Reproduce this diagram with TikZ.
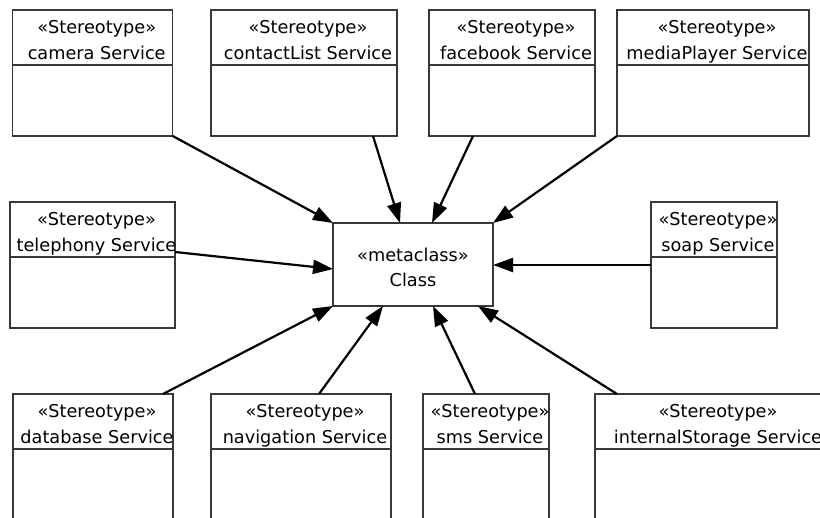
\documentclass[tikz,border=0pt]{standalone}
\usepackage{fontspec}
\setmainfont{DejaVu Sans}
\usetikzlibrary{arrows.meta}

\tikzset{
  frame/.style={draw=black!78, line width=1.3pt, fill=white, inner sep=0pt, outer sep=0pt},
  divline/.style={draw=black!78, line width=1.3pt},
  lbl/.style={anchor=base, inner sep=0pt, outer sep=0pt, font=\fontsize{17.7pt}{20pt}\selectfont},
  arr/.style={draw=black, line width=2.2pt, -{Triangle[length=20pt,width=14pt]}},
}

% service box: name, left x, top y, right x, service label
\newcommand\svcbox[5]{%
  \node[frame, minimum width={#4-#2}, minimum height=126] (#1) at ({(#2+#4)/2},{#3+63}) {};
  \draw[divline] ([yshift=-55pt]#1.north west) -- ([yshift=-55pt]#1.north east);
  \begin{scope}
    \clip (#1.north west) rectangle (#1.south east);
    \node[lbl] (#1-st) at ([xshift=4pt,yshift=-24pt]#1.north) {«Stereotype»};
    \node[lbl] (#1-nm) at ([xshift=4pt,yshift=-50pt]#1.north) {#5};
  \end{scope}
}

\begin{document}
\begin{tikzpicture}[x=1pt, y=-1pt]
  \useasboundingbox (0,0) rectangle (820,518);

  % top row
  \svcbox{camera}{12.7}{10}{172.7}{camera Service}
  \svcbox{contact}{211}{10}{397}{contactList Service}
  \svcbox{facebook}{429}{10}{595}{facebook Service}
  \svcbox{media}{617}{10}{809}{mediaPlayer Service}

  % middle row
  \svcbox{tele}{10}{202}{175}{telephony Service}
  \svcbox{soap}{651}{202}{777}{soap Service}

  % bottom row
  \svcbox{db}{13}{394}{173}{database Service}
  \svcbox{nav}{211}{394}{391}{navigation Service}
  \svcbox{sms}{423}{394}{549}{sms Service}
  \svcbox{store}{595}{394}{833}{internalStorage Service}

  % central metaclass
  \node[frame, minimum width=160, minimum height=83] (cls) at (413,264.5) {};
  \node[lbl] (cls-st) at ([yshift=-38.7pt]cls.north) {«metaclass»};
  \node[lbl] (cls-nm) at ([yshift=-63.7pt]cls.north) {Class};

  % extension arrows
  \draw[arr] (camera.south east) -- (cls.north west);
  \draw[arr] ([xshift=162pt]contact.south west) -- ([xshift=67pt]cls.north west);
  \draw[arr] ([xshift=44pt]facebook.south west) -- ([xshift=99pt]cls.north west);
  \draw[arr] (media.south west) -- (cls.north east);
  \draw[arr] ([yshift=-50pt]tele.north east) -- ([yshift=-46pt]cls.north west);
  \draw[arr] ([yshift=-63pt]soap.north west) -- ([yshift=-42pt]cls.north east);
  \draw[arr] ([xshift=150pt]db.north west) -- (cls.south west);
  \draw[arr] ([xshift=108pt]nav.north west) -- ([xshift=50pt]cls.south west);
  \draw[arr] ([xshift=52pt]sms.north west) -- ([xshift=100pt]cls.south west);
  \draw[arr] ([xshift=22pt]store.north west) -- ([xshift=145pt]cls.south west);
\end{tikzpicture}
\end{document}
